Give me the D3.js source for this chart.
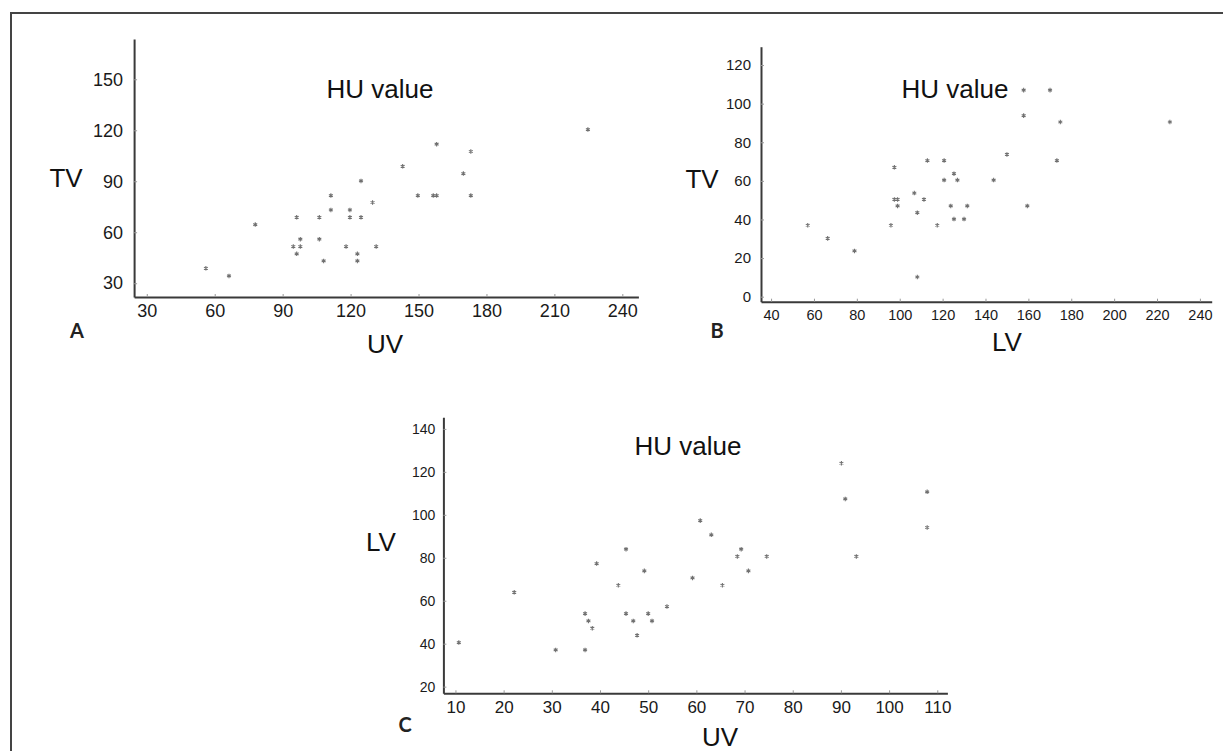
<!DOCTYPE html>
<meta charset="utf-8">
<style>
body { margin: 0; background: #fff; }
svg { display: block; font-family: "Liberation Sans", Arial, sans-serif; }
.axis .domain { stroke: #3a3a3a; stroke-width: 2; }
.axis .tick line { stroke: #999; }
.axis text { fill: #1a1a1a; }
.pt { stroke: #707070; stroke-width: 1.1; fill: none; }
</style>
<svg width="1223" height="751"></svg>
<script src="https://d3js.org/d3.v7.min.js"></script>
<script>

// panel A: UV vs TV
var aUV = [56.1, 66.3, 77.9, 94.7, 96.2, 96.2, 97.8, 97.8, 106.2, 106.2, 108.1, 111.3, 111.3, 118, 119.7, 119.7, 123, 123, 124.6, 124.6, 129.7, 131.3, 143, 149.7, 156.5, 158, 158, 169.8, 173.1, 173.1, 224.8];
var aTV = [38.8, 34.3, 64.5, 51.6, 68.8, 47.3, 55.9, 51.6, 68.8, 55.9, 43.1, 81.6, 73.1, 51.6, 73.1, 68.8, 47.3, 43.1, 90.2, 68.8, 77.5, 51.6, 98.8, 81.6, 81.6, 81.6, 111.8, 94.5, 107.5, 81.6, 120.4];
var aXTicks = [30, 60, 90, 120, 150, 180, 210, 240];
var aYTicks = [30, 60, 90, 120, 150];

// panel B: LV vs TV
var bLV = [57.1, 66.4, 78.9, 95.9, 97.5, 97.5, 99, 99, 106.8, 108.2, 108.2, 111.3, 112.9, 117.5, 120.7, 120.7, 123.8, 125.3, 125.3, 126.9, 130, 131.5, 143.8, 150, 157.8, 157.8, 159.5, 170.1, 173.3, 174.9, 226];
var bTV = [37, 30.2, 23.7, 37, 67, 50.4, 50.4, 47, 53.7, 43.5, 10.2, 50.4, 70.5, 37, 70.5, 60.4, 47, 63.7, 40.2, 60.4, 40.2, 47, 60.4, 73.7, 107, 93.8, 47, 107, 70.5, 90.5, 90.5];
var bXTicks = [40, 60, 80, 100, 120, 140, 160, 180, 200, 220, 240];
var bYTicks = [0, 20, 40, 60, 80, 100, 120];

// panel C: UV vs LV
var cUV = [10.7, 22.2, 30.8, 36.9, 36.9, 37.6, 38.4, 39.3, 43.8, 45.4, 45.4, 46.9, 47.7, 49.2, 50, 50.8, 53.9, 59.2, 60.8, 63.1, 65.4, 68.5, 69.3, 70.8, 74.6, 90.1, 90.9, 93.2, 107.9, 107.9];
var cLV = [40.5, 63.9, 37.1, 54, 37.1, 50.6, 47.2, 77.3, 67.2, 84, 54, 50.6, 43.9, 73.9, 54, 50.6, 57.3, 70.6, 97.3, 90.7, 67.2, 80.6, 84, 73.9, 80.6, 124, 107.4, 80.6, 110.7, 94.1];
var cXTicks = [10, 20, 30, 40, 50, 60, 70, 80, 90, 100, 110];
var cYTicks = [20, 40, 60, 80, 100, 120, 140];

var svg = d3.select("svg");

// outer frame (only left and top edges fall inside the picture)
svg.append("path")
    .attr("d", "M11,751V13H1223")
    .attr("fill", "none")
    .attr("stroke", "#444")
    .attr("stroke-width", 2);

var panels = [
  {letter: "A", xs: aUV, ys: aTV, xTicks: aXTicks, yTicks: aYTicks, xName: "UV", yName: "TV",
   xDom: [24.4, 247.1], xRange: [134.1, 638.4], yDom: [21.9, 173.7], yRange: [297, 39],
   xFont: 18, yFont: 18, xPad: 7, yPad: 11,
   title: [380, 98], xLab: [385, 353], yLab: [66, 187], let: [77, 338]},
  {letter: "B", xs: bLV, ys: bTV, xTicks: bXTicks, yTicks: bYTicks, xName: "LV", yName: "TV",
   xDom: [35.3, 245.5], xRange: [761, 1211.7], yDom: [-2.6, 129.5], yRange: [301.7, 46.7],
   xFont: 14.5, yFont: 15, xPad: 8, yPad: 10,
   title: [955, 98], xLab: [1007, 351], yLab: [702, 188], let: [717, 338]},
  {letter: "C", xs: cUV, ys: cLV, xTicks: cXTicks, yTicks: cYTicks, xName: "UV", yName: "LV",
   xDom: [7.5, 112.1], xRange: [443.4, 947.4], yDom: [16.9, 145.4], yRange: [693.3, 417.3],
   xFont: 17, yFont: 14, xPad: 8, yPad: 8,
   title: [688, 455], xLab: [720, 746], yLab: [381, 551], let: [405, 732]}
];

var star = d3.symbol().type(d3.symbolAsterisk).size(14);

panels.forEach(function(p) {
  var x = d3.scaleLinear().domain(p.xDom).range(p.xRange),
      y = d3.scaleLinear().domain(p.yDom).range(p.yRange);

  var g = svg.append("g");

  // d3.axis sets its own font attrs, so size is applied after the call
  g.append("g")
      .attr("class", "axis")
      .attr("transform", "translate(0," + p.yRange[0] + ")")
      .call(d3.axisBottom(x).tickValues(p.xTicks).tickSizeInner(-3).tickSizeOuter(0).tickPadding(p.xPad))
      .attr("font-size", p.xFont)
      .attr("font-family", "Liberation Sans, Arial, sans-serif");

  g.append("g")
      .attr("class", "axis")
      .attr("transform", "translate(" + p.xRange[0] + ",0)")
      .call(d3.axisLeft(y).tickValues(p.yTicks).tickSizeInner(-3).tickSizeOuter(0).tickPadding(p.yPad))
      .attr("font-size", p.yFont)
      .attr("font-family", "Liberation Sans, Arial, sans-serif");

  g.selectAll(".pt")
    .data(p.xs.map(function(v, i) { return [v, p.ys[i]]; }))
    .enter().append("path")
      .attr("class", "pt")
      .attr("d", star)
      .attr("transform", function(d) { return "translate(" + x(d[0]) + "," + y(d[1]) + ")"; });

  g.append("text")
      .attr("x", p.title[0])
      .attr("y", p.title[1])
      .attr("text-anchor", "middle")
      .attr("font-size", 26)
      .attr("fill", "#111")
      .text("HU value");

  g.append("text")
      .attr("x", p.xLab[0])
      .attr("y", p.xLab[1])
      .attr("text-anchor", "middle")
      .attr("font-size", 26)
      .attr("fill", "#111")
      .text(p.xName);

  g.append("text")
      .attr("x", p.yLab[0])
      .attr("y", p.yLab[1])
      .attr("text-anchor", "middle")
      .attr("font-size", 26)
      .attr("fill", "#111")
      .text(p.yName);

  g.append("text")
      .attr("x", p.let[0])
      .attr("y", p.let[1])
      .attr("text-anchor", "middle")
      .attr("font-family", "Lato, 'Open Sans', sans-serif")
      .attr("font-weight", 700)
      .attr("font-size", 20)
      .attr("fill", "#222")
      .text(p.letter);
});

</script>
